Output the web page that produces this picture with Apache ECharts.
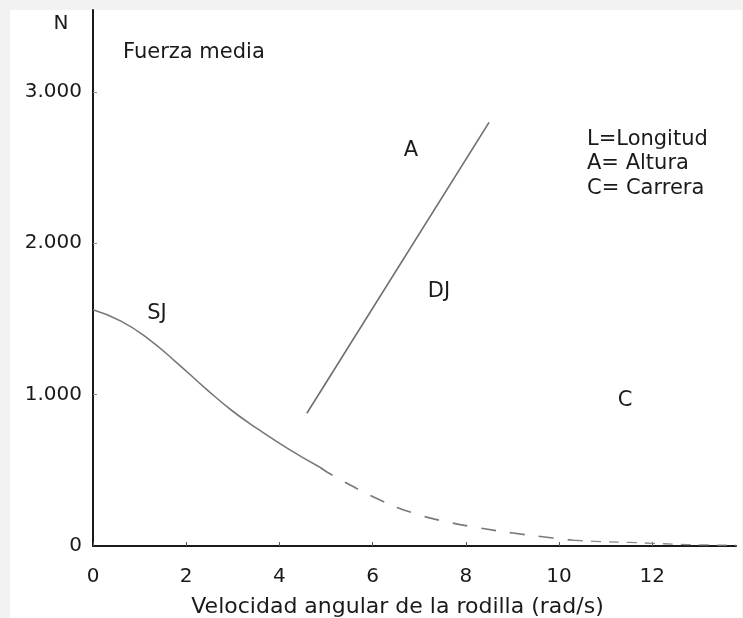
<!DOCTYPE html>
<html>
<head>
<meta charset="utf-8">
<script src="https://cdn.jsdelivr.net/npm/echarts@6/dist/echarts.min.js"></script>
<style>
html,body{margin:0;padding:0;background:#fff;}
#chart{width:743px;height:618px;}
</style>
</head>
<body>
<div id="chart"></div>
<script>
// ---- data ----
var sjSolidX = [0, 0.6, 1.2, 1.8, 2.4, 3.0, 3.6, 4.2, 4.87];
var sjSolidY = [1560, 1485, 1365, 1210, 1045, 890, 760, 640, 520];
var sjDashX  = [4.87, 5.15, 6.16, 6.87, 7.6, 8.3, 9.01, 9.87, 10.3];
var sjDashY  = [520, 465, 304, 218, 159, 119, 86, 53, 38];
var sjTailX  = [10.3, 11, 11.5, 12, 12.5, 13, 13.8];
var sjTailY  = [38, 28, 24, 18, 12, 8, 5];
var djX = [4.59, 8.5];
var djY = [877, 2798];
var xTicks = [0, 2, 4, 6, 8, 10, 12];
var yTicks = [0, 1000, 2000, 3000];
var legendLines = ['L=Longitud', 'A= Altura', 'C= Carrera'];

function pairs(xs, ys) { return xs.map(function (x, i) { return [x, ys[i]]; }); }
function fmtThousands(v) { return String(v).replace(/\B(?=(\d{3})+(?!\d))/g, '.'); }

var FONT = '"DejaVu Sans", Verdana, sans-serif';
var TXT = '#1a1a1a';

var chart = echarts.init(document.getElementById('chart'), null, {renderer: 'canvas'});
chart.setOption({
  animation: false,
  backgroundColor: '#ffffff',
  textStyle: {fontFamily: FONT},
  grid: {left: 93, top: 10, right: 7, bottom: 72, containLabel: false, outerBoundsMode: 'none'},
  xAxis: {
    type: 'value', min: 0, max: 13.8, interval: 2,
    name: 'Velocidad angular de la rodilla (rad/s)',
    nameLocation: 'middle', nameGap: 50,
    nameTextStyle: {fontFamily: FONT, fontSize: 22, color: TXT, padding: [0, 34, 0, 0]},
    axisLine: {lineStyle: {color: '#1a1a1a', width: 2}},
    axisTick: {inside: true, length: 4, lineStyle: {color: '#555', width: 1},
      customValues: xTicks},
    axisLabel: {fontFamily: FONT, fontSize: 20, color: TXT, margin: 21,
      customValues: xTicks,
      formatter: function (v) { return xTicks.indexOf(v) >= 0 ? String(v) : ''; }},
    splitLine: {show: false}
  },
  yAxis: {
    type: 'value', min: 0, max: 3540, interval: 1000,
    axisLine: {show: true, lineStyle: {color: '#1a1a1a', width: 2}},
    axisTick: {show: true, inside: true, length: 4, lineStyle: {color: '#888', width: 1},
      customValues: yTicks.slice(1)},
    axisLabel: {fontFamily: FONT, fontSize: 20, color: TXT, margin: 11,
      customValues: yTicks,
      formatter: function (v) { return yTicks.indexOf(v) >= 0 ? fmtThousands(v) : ''; }},
    splitLine: {show: false}
  },
  series: [
    {name: 'SJ', type: 'line', data: pairs(sjSolidX, sjSolidY), smooth: 0.5,
      symbol: 'none', lineStyle: {color: '#777', width: 1.6}, z: 3},
    {name: 'SJ-dash', type: 'line', data: pairs(sjDashX, sjDashY), smooth: 0.5,
      symbol: 'none', lineStyle: {color: '#7a7a7a', width: 1.7, type: [15, 14]}, z: 3},
    {name: 'SJ-tail', type: 'line', data: pairs(sjTailX, sjTailY), smooth: 0.4,
      symbol: 'none', lineStyle: {color: '#8a8a8a', width: 1.3, type: [10, 8]}, z: 3},
    {name: 'DJ', type: 'line', data: pairs(djX, djY),
      symbol: 'none', lineStyle: {color: '#6e6e6e', width: 1.6}, z: 3}
  ],
  graphic: [
    {type: 'rect', shape: {x: 0, y: 0, width: 10, height: 618}, style: {fill: '#f2f2f2'}, silent: true},
    {type: 'rect', shape: {x: 0, y: 0, width: 743, height: 10}, style: {fill: '#f2f2f2'}, silent: true},
    {type: 'rect', shape: {x: 742, y: 0, width: 1, height: 618}, style: {fill: '#f2f2f2'}, silent: true},
    {type: 'text', style: {text: 'N', x: 61, y: 24, font: '20px ' + FONT, fill: TXT, align: 'center', verticalAlign: 'middle'}},
    {type: 'text', style: {text: 'Fuerza media', x: 123, y: 53, font: '21px ' + FONT, fill: TXT, align: 'left', verticalAlign: 'middle'}},
    {type: 'text', style: {text: 'A', x: 411, y: 151, font: '21px ' + FONT, fill: TXT, align: 'center', verticalAlign: 'middle'}},
    {type: 'text', style: {text: 'DJ', x: 439, y: 292, font: '21px ' + FONT, fill: TXT, align: 'center', verticalAlign: 'middle'}},
    {type: 'text', style: {text: 'SJ', x: 157, y: 314, font: '21px ' + FONT, fill: TXT, align: 'center', verticalAlign: 'middle'}},
    {type: 'text', style: {text: 'C', x: 625, y: 401, font: '21px ' + FONT, fill: TXT, align: 'center', verticalAlign: 'middle'}},
    {type: 'text', style: {text: legendLines.join('\n'), x: 587, y: 127, font: '21px ' + FONT, lineHeight: 24.5, fill: TXT, align: 'left', verticalAlign: 'top'}}
  ]
});
</script>
</body>
</html>
